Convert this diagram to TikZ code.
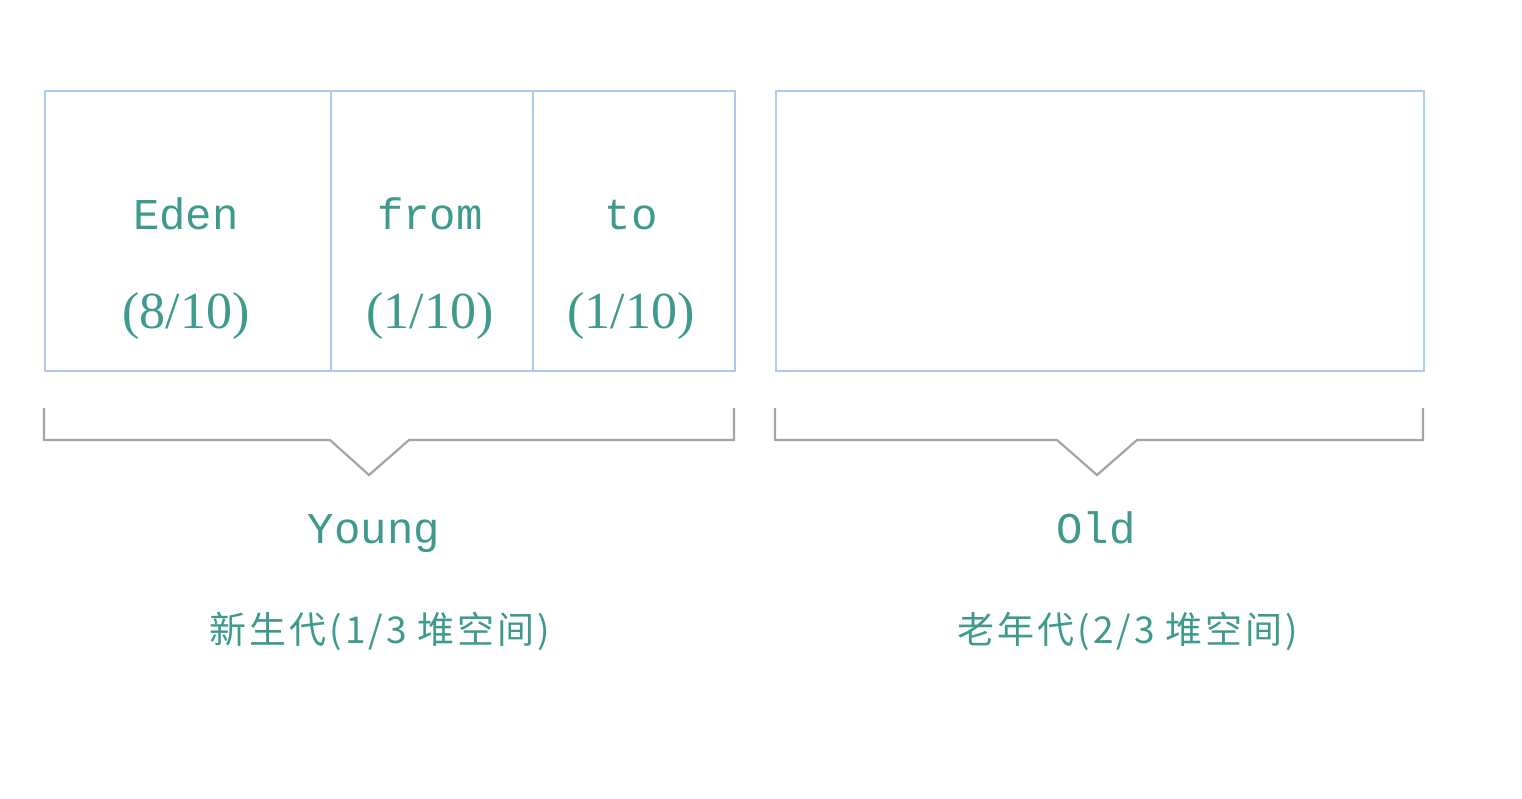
\documentclass[tikz,border=0pt]{standalone}
\usepackage{fontspec}
\newfontfamily\monof{Liberation Mono}
\newfontfamily\numf{Liberation Serif}
\newfontfamily\cjk[LetterSpace=8]{Noto Sans CJK SC}
\definecolor{boxblue}{HTML}{AECBEE}
\definecolor{teal}{HTML}{3E9A8C}
\definecolor{brk}{HTML}{A4A4A4}
\begin{document}
\begin{tikzpicture}[x=1pt,y=-1pt,
  cell/.style={draw=boxblue,line width=2pt,minimum height=280pt,inner sep=0pt,anchor=north west},
  lbl/.style={text=teal,font=\monof\fontsize{44}{44}\selectfont,anchor=base,inner sep=0pt},
  num/.style={text=teal,font=\numf\fontsize{52}{52}\selectfont,anchor=base,inner sep=0pt},
  zh/.style={text=teal,font=\cjk\fontsize{37}{37}\selectfont,anchor=base,inner sep=0pt},
  brace/.style={draw=brk,line width=2.2pt,line join=miter}]
\useasboundingbox (0,0) rectangle (1522,798);
\node[cell,minimum width=286pt] (eden) at (44,90) {};
\node[cell,minimum width=202pt] (from) at (330,90) {};
\node[cell,minimum width=202pt] (to) at (532,90) {};
\node[cell,minimum width=648pt] (old) at (775,90) {};
\node[lbl] (edenT) at (186,229) {Eden};
\node[num] (edenN) at (186,328) {(8/10)};
\node[lbl] (fromT) at (430,229) {from};
\node[num] (fromN) at (430,328) {(1/10)};
\node[lbl] (toT) at (631,229) {to};
\node[num] (toN) at (631,328) {(1/10)};
\draw[brace] (44,408) -- (44,440) -- (330,440) -- (369,475) -- (409,440) -- (734,440) -- (734,408);
\draw[brace] (775,408) -- (775,440) -- (1057,440) -- (1097,475) -- (1137,440) -- (1423,440) -- (1423,408);
\node[lbl] (young) at (374,543) {Young};
\node[lbl] (oldT) at (1096,543) {Old};
\node[zh] (youngZ) at (380,643) {新生代(1/3 堆空间)};
\node[zh] (oldZ) at (1128,643) {老年代(2/3 堆空间)};
\end{tikzpicture}
\end{document}
